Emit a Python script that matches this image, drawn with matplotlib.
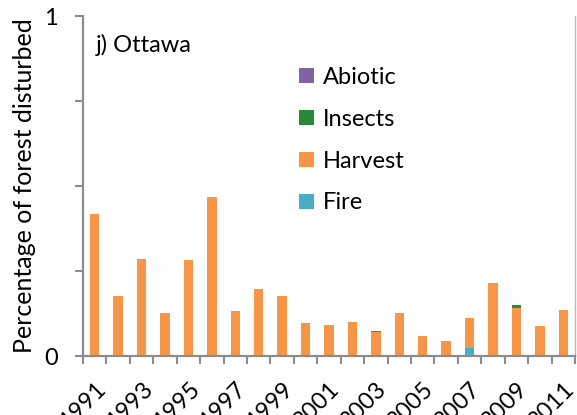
import matplotlib
matplotlib.use("Agg")
import matplotlib.pyplot as plt
import numpy as np
from matplotlib.patches import Patch

years = list(range(1991, 2012))
fire    = [0, 0, 0, 0, 0, 0, 0, 0, 0, 0, 0, 0, 0, 0, 0, 0, 0.025, 0, 0, 0, 0]
harvest = [0.418, 0.176, 0.285, 0.126, 0.282, 0.468, 0.131, 0.197, 0.176, 0.098,
           0.090, 0.100, 0.071, 0.127, 0.059, 0.043, 0.088, 0.214, 0.142, 0.088, 0.135]
insects = [0, 0, 0, 0, 0, 0, 0, 0, 0, 0, 0, 0, 0, 0, 0, 0, 0, 0, 0.007, 0, 0]
abiotic = [0, 0, 0, 0, 0, 0, 0, 0, 0, 0, 0, 0, 0.003, 0, 0, 0, 0, 0, 0, 0, 0]
series_names = ["Fire", "Harvest", "Insects", "Abiotic"]
colors = {"Fire": "#4BACC6", "Harvest": "#F79646", "Insects": "#268A36", "Abiotic": "#8064A2"}
panel_title = "j) Ottawa"
ylabel = "Percentage of forest disturbed"

plt.rcParams['font.family'] = ['Lato', 'DejaVu Sans']

fig = plt.figure(figsize=(5.77, 4.15), dpi=100)
ax = fig.add_axes([83/577, 59/415, 492/577, 340/415])

x = np.arange(len(years))
data = {"Fire": fire, "Harvest": harvest, "Insects": insects, "Abiotic": abiotic}
bottom = np.zeros(len(years))
w = 0.4
for name in series_names:
    vals = np.array(data[name])
    ax.bar(x, vals, width=w, bottom=bottom, color=colors[name], linewidth=0)
    bottom += vals

ax.set_xlim(-0.5, len(years) - 0.5)
ax.set_ylim(0, 1)

grey = "#8C8C8C"
ax.spines["top"].set_visible(False)
for s in ["left", "bottom", "right"]:
    ax.spines[s].set_color(grey)
    ax.spines[s].set_linewidth(1.6)
ax.spines["right"].set_linewidth(1.0)
ax.spines["right"].set_color("#BBBBBB")

ax.set_yticks([0, 0.25, 0.5, 0.75, 1])
ax.set_yticklabels(["0", "", "", "", "1"], fontsize=17)
ax.tick_params(axis='y', direction='out', length=6, width=1.5, color=grey, pad=12)

ax.set_xticks(x)
labels = [str(y) if (y - 1991) % 2 == 0 else "" for y in years]
ax.set_xticklabels(labels, rotation=45, ha='right', rotation_mode='anchor', fontsize=17)
ax.tick_params(axis='x', which='major', length=0, pad=16)
ax.set_xticks(np.arange(-0.5, len(years) + 0.5, 1), minor=True)
ax.tick_params(axis='x', which='minor', direction='out', length=6, width=1.5, color=grey)

ax.set_ylabel(ylabel, fontsize=18, labelpad=6)

ax.text(0.025, 0.915, panel_title, transform=ax.transAxes, fontsize=17, ha='left', va='center')

handles = [Patch(facecolor=colors[n]) for n in ["Abiotic", "Insects", "Harvest", "Fire"]]
ax.legend(handles, ["Abiotic", "Insects", "Harvest", "Fire"], loc='upper left',
          bbox_to_anchor=(0.44, 0.85), frameon=False, fontsize=17,
          handlelength=0.6, handleheight=0.6, handletextpad=0.4, labelspacing=0.88,
          borderaxespad=0, borderpad=0)

fig.savefig("out.png", dpi=100)
